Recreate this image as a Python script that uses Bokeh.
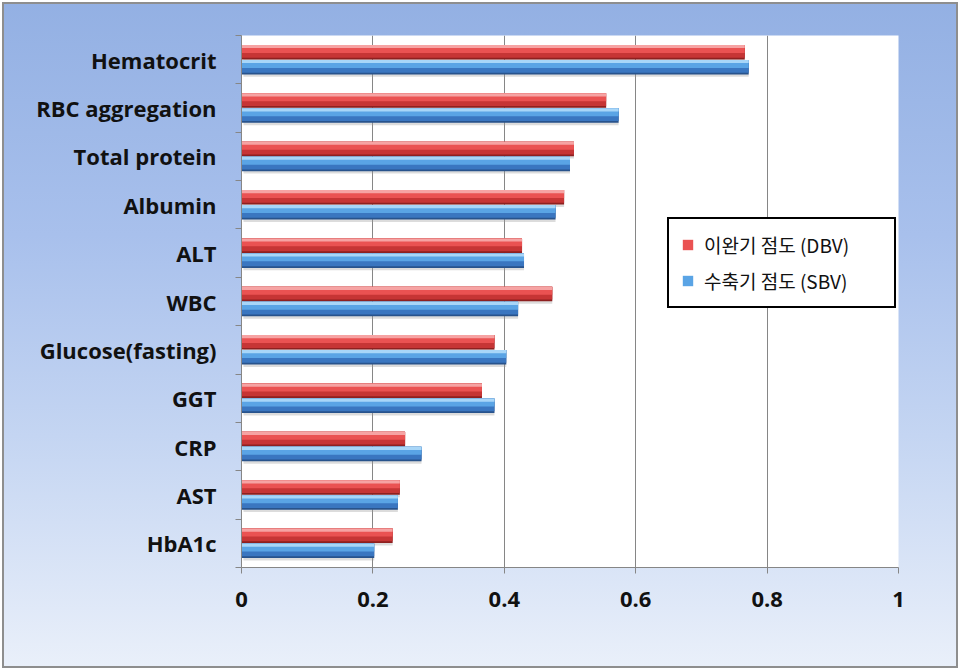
from bokeh.plotting import figure
from bokeh.models import (Range1d, LinearAxis, FixedTicker, Legend, LegendItem,
                          ColumnDataSource, CustomJSTickFormatter)
from bokeh.transform import dodge
from bokeh.embed import file_html
from bokeh.resources import INLINE

# ---------------- data ----------------
categories = ["Hematocrit", "RBC aggregation", "Total protein", "Albumin", "ALT", "WBC",
              "Glucose(fasting)", "GGT", "CRP", "AST", "HbA1c"]
dbv = [0.766, 0.555, 0.506, 0.491, 0.427, 0.473, 0.385, 0.366, 0.249, 0.241, 0.230]
sbv = [0.772, 0.574, 0.500, 0.478, 0.430, 0.421, 0.403, 0.385, 0.274, 0.238, 0.202]
x_ticks = [0, 0.2, 0.4, 0.6, 0.8, 1.0]
x_tick_labels = ["0", "0.2", "0.4", "0.6", "0.8", "1"]
series_labels = ["이완기 점도 (DBV)", "수축기 점도 (SBV)"]

n = len(categories)
ypos = [n - 0.5 - i for i in range(n)]  # category slots, first at top

# ---------------- figure ----------------
p = figure(width=960, height=670, output_backend="svg", toolbar_location=None,
           y_range=Range1d(0, n), x_range=Range1d(0, 1),
           y_axis_location=None,
           min_border_left=241, min_border_right=62, min_border_top=35, min_border_bottom=103)
p.border_fill_color = None
p.background_fill_color = "white"
p.outline_line_color = None
p.styles = {
    "background": "linear-gradient(to bottom, #93b0e3 0%, #a8c0ec 35%, #c4d5f2 65%, #eaf0fa 100%)",
    "box-shadow": "inset 0 0 0 2px #ffffff, inset 0 0 0 4px #8e8e8e",
}

src = ColumnDataSource(dict(cat=categories, y=ypos, dbv=dbv, sbv=sbv))

H = 0.30
OFF = 0.155

def bar_layers(field, off, colors):
    base, low, mid, light = colors
    rs = []
    for dy, hf, col in ((0.0, 1.0, base), (0.06, 0.88, low), (0.225, 0.55, mid), (0.39, 0.22, light)):
        r = p.hbar(y=dodge("y", off + H * dy), left=0, right=field, height=H * hf,
                   source=src, fill_color=col, line_color=None)
        rs.append(r)
    return rs

# soft shadows
for field, off in (("dbv", OFF), ("sbv", -OFF)):
    p.hbar(y=dodge("y", off - 0.05), left=0.003, right=field, height=H,
           source=src, fill_color="#9a9a9a", fill_alpha=0.35, line_color=None)

red_r = bar_layers("dbv", OFF, ("#8e2020", "#c63535", "#ea5252", "#f6a3a3"))
blue_r = bar_layers("sbv", -OFF, ("#28538c", "#3a76c0", "#5aa4e5", "#a8d6f8"))

# ---------------- axes ----------------
xaxis = p.xaxis[0]
xaxis.ticker = FixedTicker(ticks=x_ticks)
xaxis.major_label_overrides = {t: l for t, l in zip(x_ticks, x_tick_labels)}
xaxis.axis_line_color = "#868686"
xaxis.major_tick_line_color = "#868686"
xaxis.major_tick_out = 6
xaxis.major_tick_in = 0
xaxis.minor_tick_line_color = None
xaxis.major_label_standoff = 18
xaxis.major_label_text_font = "Open Sans"
xaxis.major_label_text_font_style = "bold"
xaxis.major_label_text_font_size = "22px"
xaxis.major_label_text_color = "#111111"

p.xgrid.grid_line_color = "#868686"
p.xgrid.grid_line_width = 1
p.ygrid.grid_line_color = None

# tick-only axis with ticks at category boundaries
band_axis = LinearAxis(ticker=FixedTicker(ticks=list(range(n + 1))),
                       formatter=CustomJSTickFormatter(code="return ''"),
                       axis_line_color="#868686", major_tick_line_color="#868686",
                       major_tick_out=6, major_tick_in=0, minor_tick_line_color=None,
                       major_label_standoff=0, major_label_text_font_size="1px")
p.add_layout(band_axis, "left")

cat_axis = LinearAxis(ticker=FixedTicker(ticks=ypos),
                      major_label_overrides={y: c for y, c in zip(ypos, categories)},
                      axis_line_color=None, major_tick_line_color=None,
                      minor_tick_line_color=None, major_label_standoff=13,
                      major_label_text_font="Open Sans",
                      major_label_text_font_style="bold",
                      major_label_text_font_size="22px",
                      major_label_text_color="#111111")
p.add_layout(cat_axis, "left")

# ---------------- legend ----------------
legend = Legend(items=[LegendItem(label=series_labels[0], renderers=[red_r[2]]),
                       LegendItem(label=series_labels[1], renderers=[blue_r[2]])],
                location=(426, 259),
                border_line_color="black", border_line_width=2.5, border_line_alpha=1,
                background_fill_color="white", background_fill_alpha=1,
                padding=12, spacing=9, label_height=24, label_width=178,
                glyph_width=13, glyph_height=13, label_standoff=10,
                label_text_font="Noto Sans CJK KR", label_text_font_size="19px",
                label_text_color="#111111")
p.add_layout(legend, "center")

open("out.html", "w").write(file_html(p, INLINE))
